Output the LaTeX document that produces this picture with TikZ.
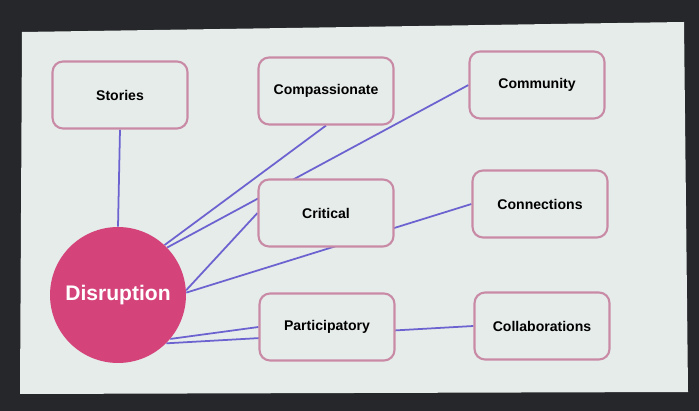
\documentclass[tikz,border=0pt]{standalone}
\usepackage{fontspec}
\setsansfont{Liberation Sans}
\usetikzlibrary{backgrounds}
\definecolor{screen}{HTML}{E6ECEA}
\definecolor{frame}{HTML}{26272A}
\definecolor{boxline}{HTML}{C98AA6}
\definecolor{linkline}{HTML}{6C62D0}
\definecolor{disrupt}{HTML}{D4447A}
\tikzset{
  topic/.style={draw=boxline, line width=1.2pt, rounded corners=6pt, fill=screen,
    minimum width=2.7cm, minimum height=1.34cm, font=\sffamily\bfseries\footnotesize},
  hub/.style={circle, fill=disrupt, minimum size=2.72cm, inner sep=0pt,
    text=white, font=\sffamily\bfseries\large},
  link/.style={draw=linkline, line width=1pt}
}
\begin{document}
\begin{tikzpicture}[x=0.02cm, y=-0.02cm]
    \node[hub] (disruption) at (118,295) {Disruption} ;
    \node[topic] (stories) at (120,95) {Stories} ;
    \node[topic] (compassionate) at (326,91) {Compassionate} ;
    \node[topic] (community) at (537,85) {Community} ;
    \node[topic] (critical) at (326,213) {Critical} ;
    \node[topic] (connections) at (540,204) {Connections} ;
    \node[topic] (participatory) at (327,327) {Participatory} ;
    \node[topic] (collaborations) at (542,326) {Collaborations} ;

    \begin{pgfonlayer}{background}
    % backdrop and projected slide
    \fill[frame] (0,0) rectangle (699,411) ;
    \fill[screen] (22,32) -- (684,22) -- (688,392) -- (20,394) -- cycle ;
    \draw[link] (disruption.90) -- (stories.south) ;
    \draw[link] (disruption.47) -- (compassionate.south) ;
    \draw[link] (disruption.44) -- (community.west) ;
    \draw[link] (disruption.4) -- (critical.west) ;
    \draw[link] (disruption.2) -- (connections.west) ;
    \draw[link] (disruption.-40) -- (participatory.west) ;
    \draw[link] (disruption.-45) -- (collaborations.west) ;
    \end{pgfonlayer}
\end{tikzpicture}
\end{document}
